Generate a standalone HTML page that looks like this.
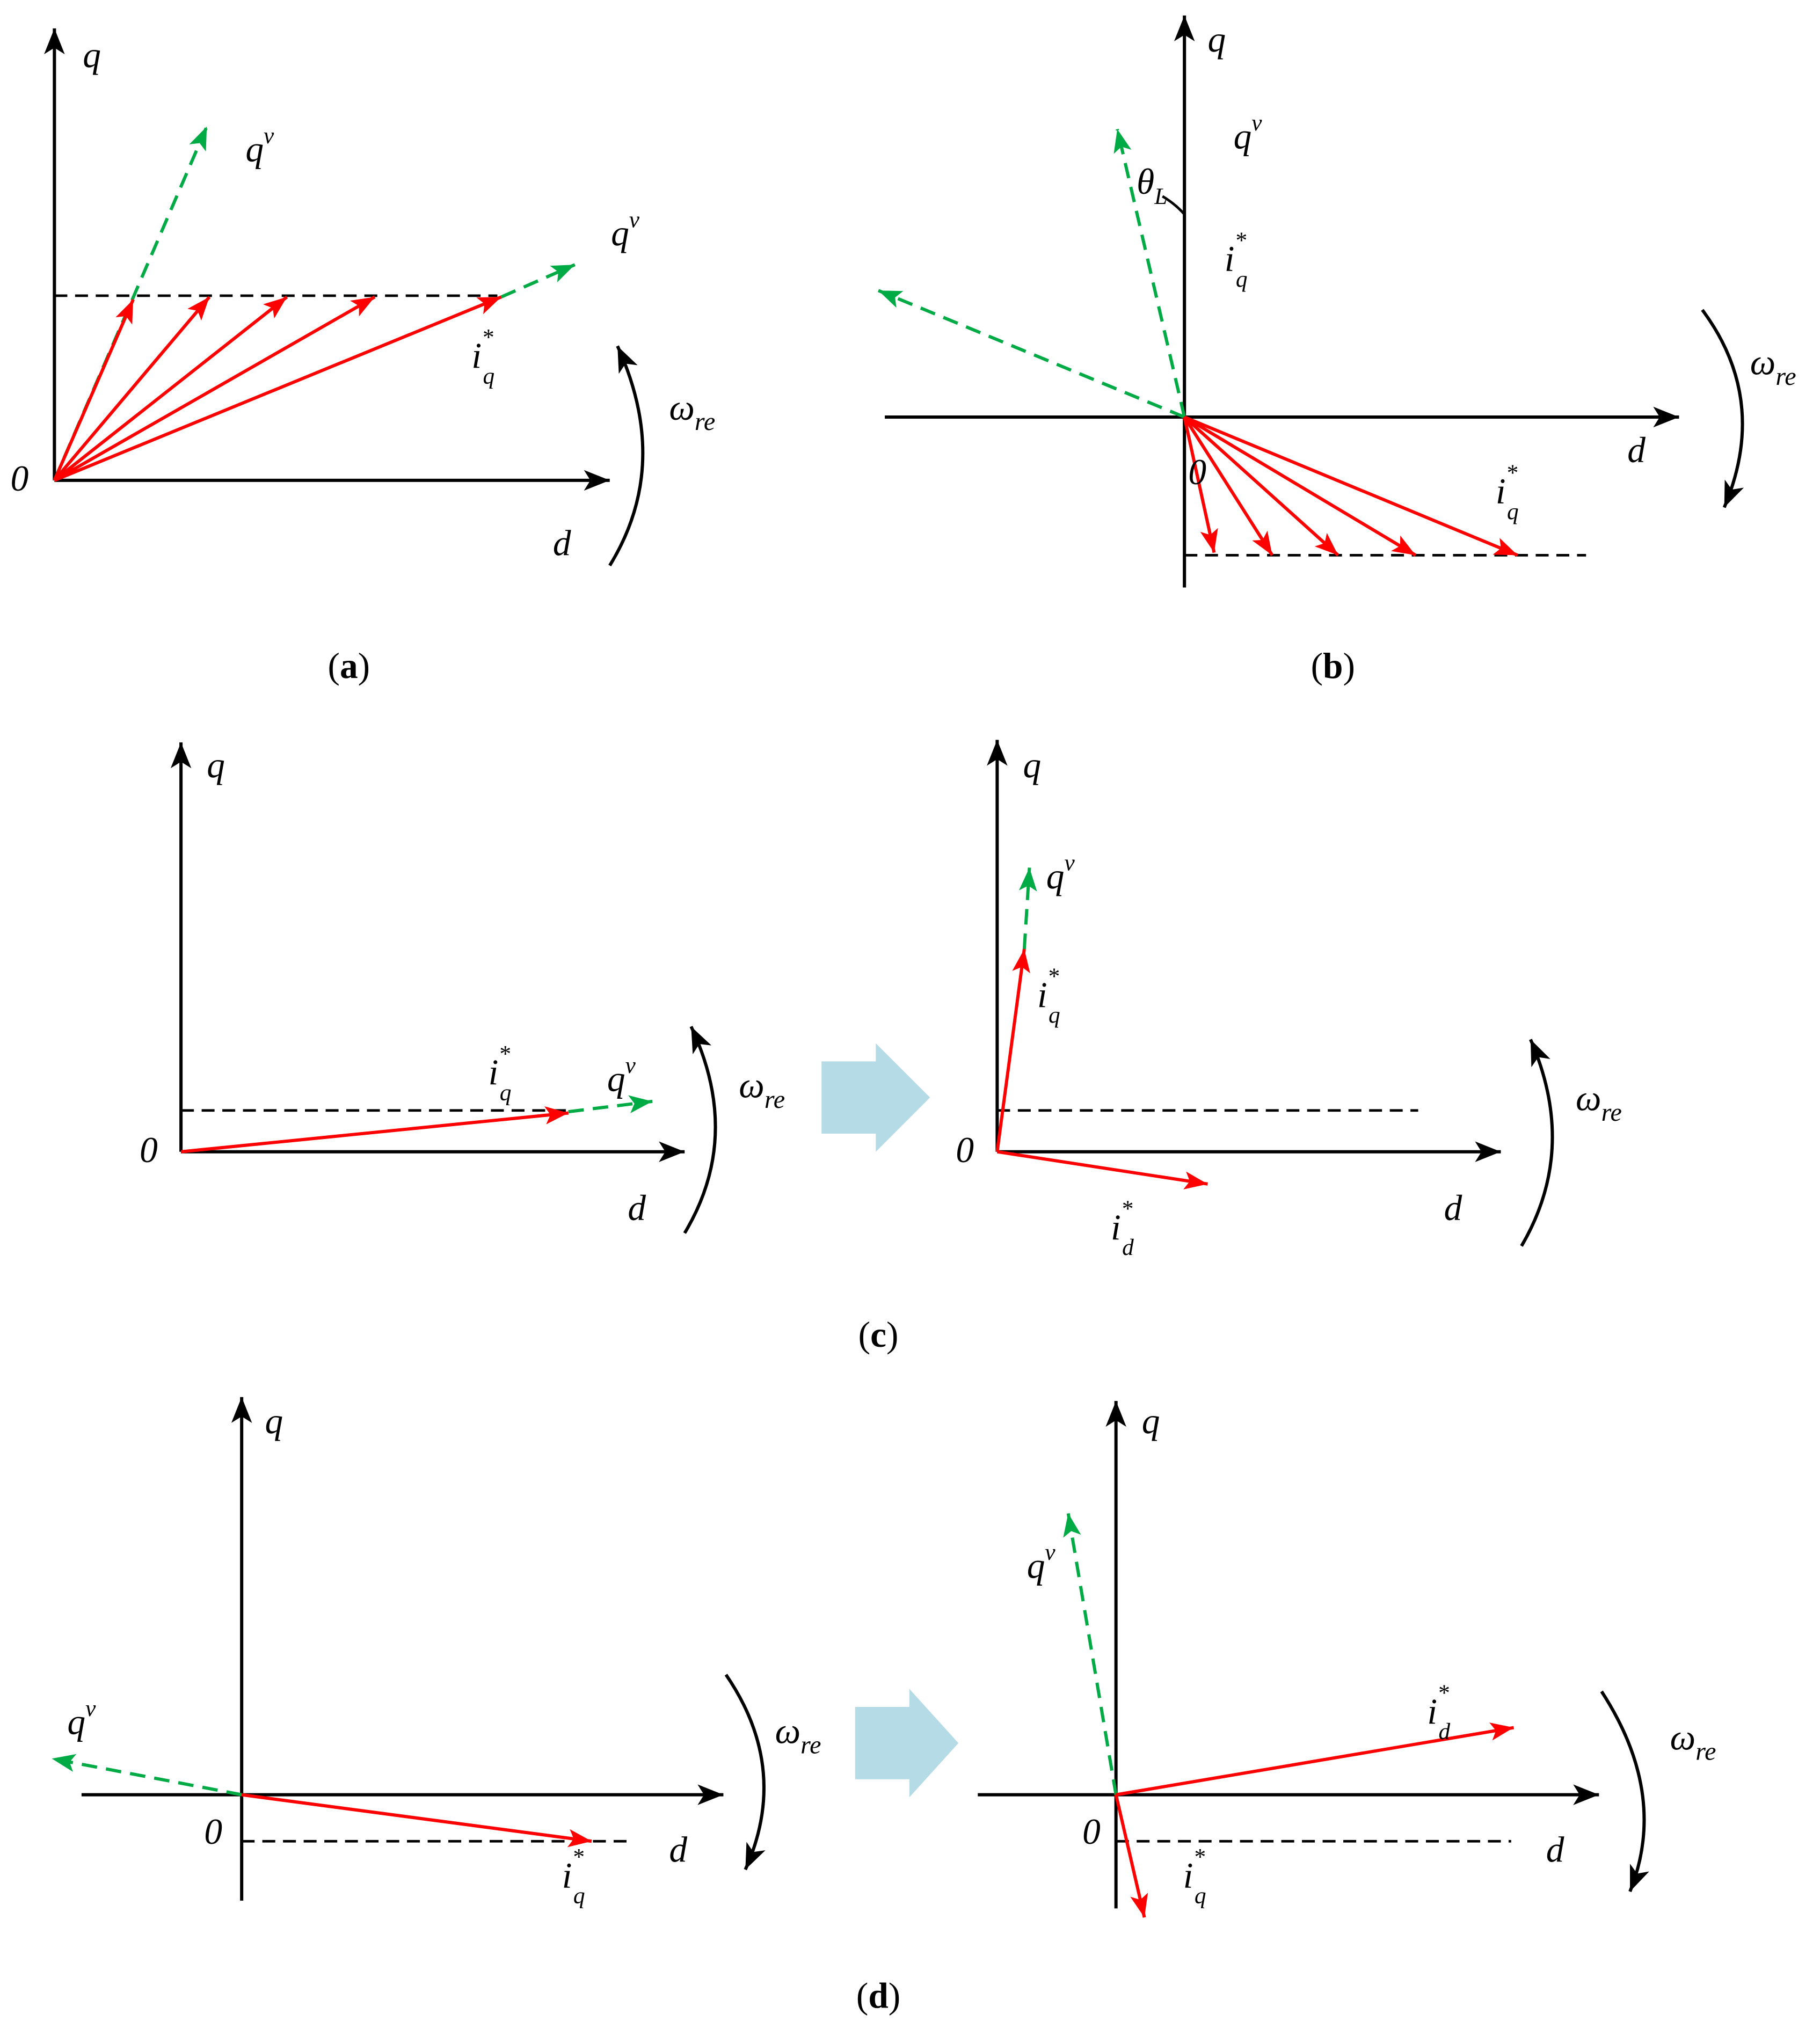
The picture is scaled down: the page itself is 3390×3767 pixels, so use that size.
<!DOCTYPE html>
<html><head><meta charset="utf-8"><style>html,body{margin:0;padding:0;background:#fff}svg{display:block}</style></head>
<body>
<svg width="3390" height="3767" viewBox="0 0 1409 1566" xmlns="http://www.w3.org/2000/svg" font-family="Liberation Serif, serif">
<defs>
<marker id="k" markerUnits="userSpaceOnUse" markerWidth="22" markerHeight="16" refX="20" refY="8" orient="auto"><path d="M0,0 L20,8 L0,16 L5,8 Z" fill="#000"/></marker>
<marker id="r" markerUnits="userSpaceOnUse" markerWidth="20" markerHeight="14" refX="18" refY="7" orient="auto"><path d="M0,0 L18,7 L0,14 L4,7 Z" fill="#f00"/></marker>
<marker id="g" markerUnits="userSpaceOnUse" markerWidth="20" markerHeight="14" refX="18" refY="7" orient="auto"><path d="M0,0 L18,7 L0,14 L4,7 Z" fill="#0a4"/></marker>
</defs>
<g stroke-width="2.5" fill="none">
<!-- (a) -->
<line x1="42" y1="372" x2="42" y2="22" stroke="#000" marker-end="url(#k)"/>
<line x1="42" y1="372" x2="472" y2="372" stroke="#000" marker-end="url(#k)"/>
<line x1="42" y1="229" x2="385" y2="229" stroke="#000" stroke-dasharray="10,6" stroke-width="2"/>
<line x1="42" y1="372" x2="160" y2="98" stroke="#0a4" stroke-dasharray="12,7" marker-end="url(#g)"/>
<line x1="388" y1="230" x2="445" y2="205" stroke="#0a4" stroke-dasharray="12,7" marker-end="url(#g)"/>
<g stroke="#f00" marker-end="url(#r)">
<line x1="42" y1="372" x2="103" y2="232"/><line x1="42" y1="372" x2="162" y2="230"/><line x1="42" y1="372" x2="222" y2="230"/><line x1="42" y1="372" x2="290" y2="230"/><line x1="42" y1="372" x2="388" y2="230"/></g>
<path d="M472,438 Q520,360 478,268" stroke="#000" marker-end="url(#k)"/>
<!-- (b) -->
<line x1="917" y1="455" x2="917" y2="12" stroke="#000" marker-end="url(#k)"/>
<line x1="685" y1="323" x2="1300" y2="323" stroke="#000" marker-end="url(#k)"/>
<line x1="917" y1="430" x2="1228" y2="430" stroke="#000" stroke-dasharray="10,6" stroke-width="2"/>
<line x1="917" y1="323" x2="865" y2="100" stroke="#0a4" stroke-dasharray="12,7" marker-end="url(#g)"/>
<line x1="917" y1="323" x2="680" y2="225" stroke="#0a4" stroke-dasharray="12,7" marker-end="url(#g)"/>
<g stroke="#f00" marker-end="url(#r)">
<line x1="917" y1="323" x2="940" y2="428"/><line x1="917" y1="323" x2="985" y2="430"/><line x1="917" y1="323" x2="1036" y2="430"/><line x1="917" y1="323" x2="1096" y2="430"/><line x1="917" y1="323" x2="1175" y2="430"/></g>
<path d="M900,152 Q910,158 917,166" stroke="#000" stroke-width="2"/>
<path d="M1318,240 Q1370,310 1335,393" stroke="#000" marker-end="url(#k)"/>
<!-- (c) left -->
<line x1="140" y1="892" x2="140" y2="575" stroke="#000" marker-end="url(#k)"/>
<line x1="140" y1="892" x2="530" y2="892" stroke="#000" marker-end="url(#k)"/>
<line x1="140" y1="860" x2="440" y2="860" stroke="#000" stroke-dasharray="10,6" stroke-width="2"/>
<line x1="440" y1="861" x2="505" y2="853" stroke="#0a4" stroke-dasharray="12,7" marker-end="url(#g)"/>
<line x1="140" y1="892" x2="440" y2="862" stroke="#f00" marker-end="url(#r)"/>
<path d="M530,955 Q575,880 535,795" stroke="#000" marker-end="url(#k)"/>
<!-- (c) right -->
<line x1="772" y1="892" x2="772" y2="573" stroke="#000" marker-end="url(#k)"/>
<line x1="772" y1="892" x2="1162" y2="892" stroke="#000" marker-end="url(#k)"/>
<line x1="772" y1="860" x2="1098" y2="860" stroke="#000" stroke-dasharray="10,6" stroke-width="2"/>
<line x1="793" y1="735" x2="797" y2="672" stroke="#0a4" stroke-dasharray="12,7" marker-end="url(#g)"/>
<line x1="772" y1="892" x2="793" y2="735" stroke="#f00" marker-end="url(#r)"/>
<line x1="772" y1="892" x2="935" y2="917" stroke="#f00" marker-end="url(#r)"/>
<path d="M1178,965 Q1222,890 1185,805" stroke="#000" marker-end="url(#k)"/>
<!-- (d) left -->
<line x1="187" y1="1472" x2="187" y2="1082" stroke="#000" marker-end="url(#k)"/>
<line x1="63" y1="1390" x2="560" y2="1390" stroke="#000" marker-end="url(#k)"/>
<line x1="187" y1="1426" x2="490" y2="1426" stroke="#000" stroke-dasharray="10,6" stroke-width="2"/>
<line x1="187" y1="1390" x2="40" y2="1362" stroke="#0a4" stroke-dasharray="12,7" marker-end="url(#g)"/>
<line x1="187" y1="1390" x2="458" y2="1426" stroke="#f00" marker-end="url(#r)"/>
<path d="M562,1297 Q612,1370 577,1448" stroke="#000" marker-end="url(#k)"/>
<!-- (d) right -->
<line x1="864" y1="1478" x2="864" y2="1085" stroke="#000" marker-end="url(#k)"/>
<line x1="757" y1="1390" x2="1238" y2="1390" stroke="#000" marker-end="url(#k)"/>
<line x1="864" y1="1426" x2="1170" y2="1426" stroke="#000" stroke-dasharray="10,6" stroke-width="2"/>
<line x1="864" y1="1390" x2="827" y2="1172" stroke="#0a4" stroke-dasharray="12,7" marker-end="url(#g)"/>
<line x1="864" y1="1390" x2="1172" y2="1338" stroke="#f00" marker-end="url(#r)"/>
<line x1="864" y1="1390" x2="886" y2="1485" stroke="#f00" marker-end="url(#r)"/>
<path d="M1240,1310 Q1292,1390 1262,1465" stroke="#000" marker-end="url(#k)"/>
</g>
<polygon points="636,822 678,822 678,808 720,850 678,892 678,878 636,878" fill="#b5dbe6"/>
<polygon points="662,1322 704,1322 704,1308 742,1350 704,1392 704,1378 662,1378" fill="#b5dbe6"/>
<g font-style="italic" font-size="28" fill="#000">
<text x="64" y="52">q</text><text x="190" y="125">q<tspan font-size="18" dy="-14">v</tspan></text>
<text x="473" y="190">q<tspan font-size="18" dy="-14">v</tspan></text>
<text x="365" y="285">i<tspan font-size="18" dy="-18">*</tspan><tspan font-size="18" dx="-8" dy="30">q</tspan></text>
<text x="518" y="325">ω<tspan font-size="20" dy="8">re</tspan></text>
<text x="8" y="380">0</text><text x="428" y="430">d</text>
<text x="935" y="40">q</text><text x="955" y="115">q<tspan font-size="18" dy="-14">v</tspan></text>
<text x="880" y="150">θ<tspan font-size="18" dy="8">L</tspan></text>
<text x="948" y="210">i<tspan font-size="18" dy="-18">*</tspan><tspan font-size="18" dx="-8" dy="30">q</tspan></text>
<text x="1355" y="290">ω<tspan font-size="20" dy="8">re</tspan></text>
<text x="1260" y="358">d</text><text x="920" y="375">0</text>
<text x="1158" y="390">i<tspan font-size="18" dy="-18">*</tspan><tspan font-size="18" dx="-8" dy="30">q</tspan></text>
<text x="160" y="602">q</text><text x="108" y="900">0</text><text x="486" y="945">d</text>
<text x="378" y="840">i<tspan font-size="18" dy="-18">*</tspan><tspan font-size="18" dx="-8" dy="30">q</tspan></text>
<text x="470" y="845">q<tspan font-size="18" dy="-14">v</tspan></text>
<text x="572" y="850">ω<tspan font-size="20" dy="8">re</tspan></text>
<text x="792" y="602">q</text><text x="810" y="688">q<tspan font-size="18" dy="-14">v</tspan></text>
<text x="803" y="780">i<tspan font-size="18" dy="-18">*</tspan><tspan font-size="18" dx="-8" dy="30">q</tspan></text>
<text x="740" y="900">0</text><text x="1118" y="945">d</text>
<text x="860" y="960">i<tspan font-size="18" dy="-18">*</tspan><tspan font-size="18" dx="-8" dy="30">d</tspan></text>
<text x="1220" y="860">ω<tspan font-size="20" dy="8">re</tspan></text>
<text x="205" y="1110">q</text><text x="52" y="1343">q<tspan font-size="18" dy="-14">v</tspan></text>
<text x="158" y="1428">0</text><text x="518" y="1442">d</text>
<text x="435" y="1462">i<tspan font-size="18" dy="-18">*</tspan><tspan font-size="18" dx="-8" dy="30">q</tspan></text>
<text x="600" y="1350">ω<tspan font-size="20" dy="8">re</tspan></text>
<text x="884" y="1110">q</text><text x="795" y="1222">q<tspan font-size="18" dy="-14">v</tspan></text>
<text x="1105" y="1335">i<tspan font-size="18" dy="-18">*</tspan><tspan font-size="18" dx="-8" dy="30">d</tspan></text>
<text x="1293" y="1355">ω<tspan font-size="20" dy="8">re</tspan></text>
<text x="838" y="1428">0</text><text x="1197" y="1442">d</text>
<text x="916" y="1462">i<tspan font-size="18" dy="-18">*</tspan><tspan font-size="18" dx="-8" dy="30">q</tspan></text>
</g>
<g font-size="28" fill="#000" text-anchor="middle">
<text x="270" y="525">(<tspan font-weight="bold">a</tspan>)</text>
<text x="1032" y="525">(<tspan font-weight="bold">b</tspan>)</text>
<text x="680" y="1043">(<tspan font-weight="bold">c</tspan>)</text>
<text x="680" y="1555">(<tspan font-weight="bold">d</tspan>)</text>
</g>
</svg>
</body></html>
